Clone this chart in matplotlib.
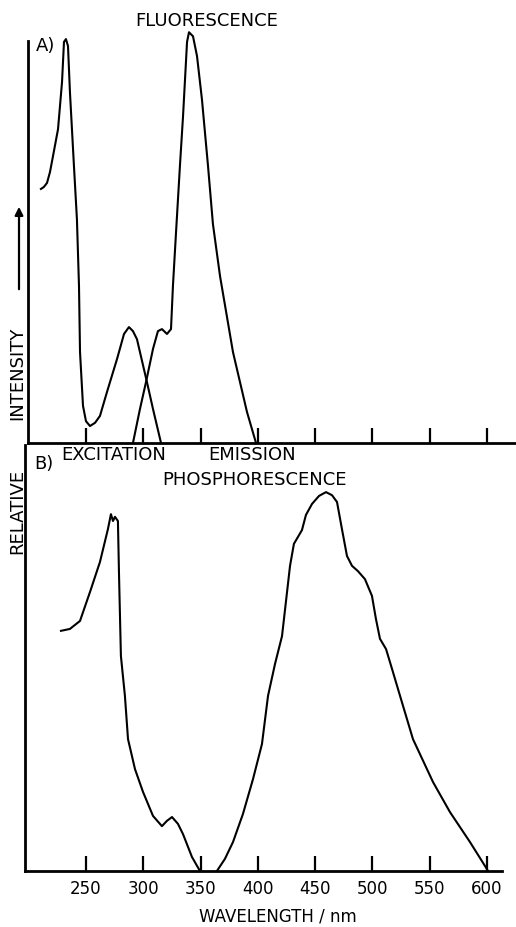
import matplotlib
matplotlib.use("Agg")
import matplotlib.pyplot as plt

# ---------------- data ----------------
# A) Fluorescence: excitation and emission spectra
fl_exc_wl = [210.7, 213.3, 216.0, 218.6, 221.2, 225.6, 229.1, 230.8, 232.5, 234.3, 236.0, 239.5,
             242.1, 243.9, 244.8, 247.4, 250.0, 253.5, 257.9, 262.2, 268.3, 277.1,
             283.2, 287.5, 291.0, 294.5, 303.2, 308.5, 315.5]
fl_exc_int = [62.9, 63.4, 64.4, 67.1, 71.0, 77.7, 89.4, 99.3, 100.0, 98.3, 86.9, 68.6,
              55.4, 38.9, 22.5, 9.2, 5.4, 4.2, 5.0, 6.7, 12.6, 20.8,
              27.0, 28.7, 27.7, 25.7, 15.1, 8.4, 0.0]

fl_em_wl = [291.0, 297.1, 302.4, 308.5, 312.8, 316.3, 320.7, 324.2, 325.9, 328.6,
            332.0, 334.7, 338.2, 339.9, 343.4, 346.9, 351.2, 356.5, 360.8, 367.0,
            378.3, 390.5, 398.4]
fl_em_int = [0.0, 8.4, 15.1, 23.3, 27.7, 28.2, 27.0, 28.2, 38.9, 52.2,
             68.6, 80.9, 99.3, 101.7, 100.7, 95.8, 85.1, 68.6, 54.2, 41.3,
             22.5, 7.7, 0.0]

# B) Phosphorescence: excitation and emission spectra
ph_exc_wl = [228.2, 236.0, 244.8, 253.5, 262.2, 269.2, 271.8, 273.6, 275.3, 277.9,
             278.8, 280.5, 284.0, 286.7, 292.8, 299.8, 308.5, 316.3, 320.7, 325.1,
             330.3, 334.7, 342.5, 349.5]
ph_exc_int = [63.2, 63.7, 65.8, 73.4, 81.3, 90.0, 93.9, 92.1, 93.2, 92.1,
              78.7, 56.6, 46.1, 34.7, 26.8, 20.8, 14.5, 11.8, 13.2, 14.2,
              12.4, 9.7, 3.7, 0.0]

ph_em_wl = [364.3, 371.3, 378.3, 387.0, 395.8, 403.6, 408.9, 415.0, 421.1, 428.1,
            431.5, 435.0, 438.5, 442.0, 447.3, 453.4, 459.5, 464.7, 469.1, 473.4,
            477.8, 482.2, 487.4, 493.5, 499.6, 503.1, 506.6, 511.9, 517.1, 524.1,
            535.4, 552.9, 567.7, 585.2, 598.3, 600.9]
ph_em_int = [0.0, 3.2, 7.6, 15.0, 24.2, 33.4, 46.1, 54.5, 61.8, 80.3,
             86.1, 87.9, 89.7, 93.7, 96.6, 98.7, 99.7, 98.9, 97.1, 90.0,
             82.9, 80.3, 78.9, 76.8, 72.4, 66.3, 61.1, 58.4, 53.2, 46.1,
             34.7, 23.4, 15.5, 7.6, 1.3, 0.0]

tick_values = [250, 300, 350, 400, 450, 500, 550, 600]
tick_labels = ["250", "300", "350", "400", "450", "500", "550", "600"]

# ---------------- figure ----------------
W, H = 516, 928
fig = plt.figure(figsize=(W / 100, H / 100), dpi=100)
plt.rcParams['font.family'] = ['DejaVu Sans']


def box(x0, y0, x1, y1):
    return [x0 / W, 1 - y1 / H, (x1 - x0) / W, (y1 - y0) / H]


axA = fig.add_axes(box(28, 30, 516, 444))
axB = fig.add_axes(box(25, 446, 502, 872))

lw_curve = 1.5
lw_axis = 2.0

axA.plot(fl_exc_wl, fl_exc_int, color='black', lw=lw_curve, solid_joinstyle='round', clip_on=False)
axA.plot(fl_em_wl, fl_em_int, color='black', lw=lw_curve, solid_joinstyle='round', clip_on=False)
axA.set_xlim(199.4, 625.3)
axA.set_ylim(0, 102.5)

axB.plot(ph_exc_wl, ph_exc_int, color='black', lw=lw_curve, solid_joinstyle='round', clip_on=False)
axB.plot(ph_em_wl, ph_em_int, color='black', lw=lw_curve, solid_joinstyle='round', clip_on=False)
axB.set_xlim(196.8, 613.1)
axB.set_ylim(0, 112.1)

for ax in (axA, axB):
    ax.spines['top'].set_visible(False)
    ax.spines['right'].set_visible(False)
    ax.spines['left'].set_linewidth(lw_axis)
    ax.spines['bottom'].set_linewidth(lw_axis)
    ax.set_yticks([])
    ax.set_xticks(tick_values)
    ax.tick_params(axis='x', direction='in', length=11, width=1.6, pad=6,
                   labelsize=12)
    ax.patch.set_alpha(0)

axA.spines['left'].set_bounds(0, 99.5)
axA.set_xticklabels([])
axB.set_xticklabels(tick_labels)

# ---------------- texts ----------------
def ftext(x, y, s, size=13, **kw):
    fig.text(x / W, 1 - y / H, s, ha='center', va='center', fontsize=size, **kw)

ftext(207, 21, "FLUORESCENCE")
ftext(46, 46, "A)")
ftext(44, 464, "B)")
ftext(114, 455, "EXCITATION")
ftext(252, 455, "EMISSION")
ftext(255, 480, "PHOSPHORESCENCE")
ftext(278, 917, "WAVELENGTH / nm", size=12)
ftext(17, 511, "RELATIVE")
fig.texts[-1].set_rotation(90)
ftext(17, 373, "INTENSITY")
fig.texts[-1].set_rotation(90)

fig.add_artist(matplotlib.patches.FancyArrowPatch(
    (19 / W, 1 - 293 / H), (19 / W, 1 - 205 / H), transform=fig.transFigure,
    arrowstyle='-|>', mutation_scale=12, lw=1.6, color='black'))

fig.savefig("out.png", dpi=100)
